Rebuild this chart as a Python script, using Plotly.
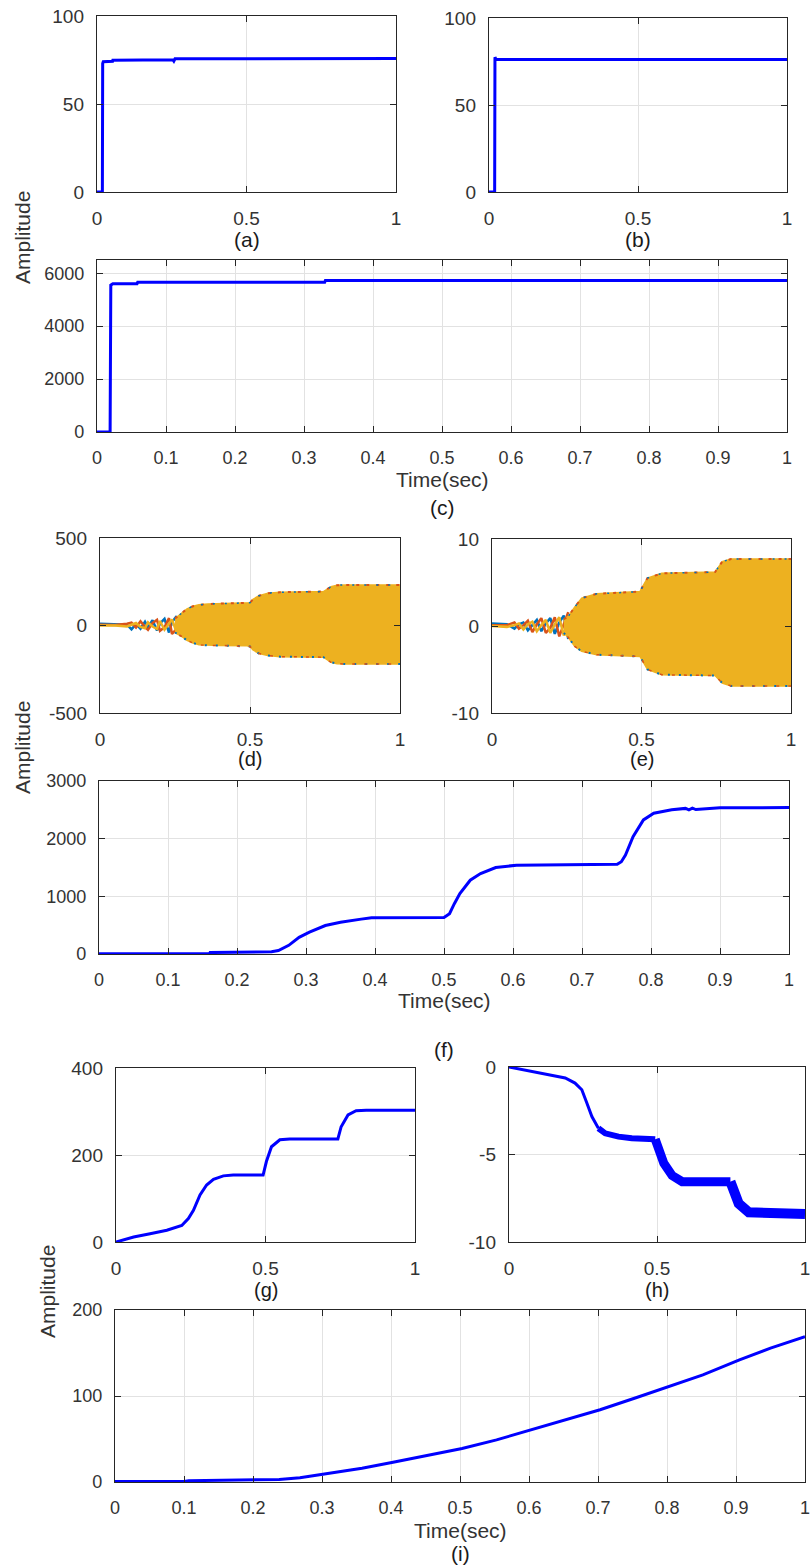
import plotly.graph_objects as go

W, H = 810, 1566

# ---------------- data ----------------
# (a)
t_a = [0, 0.018, 0.019, 0.021, 0.052, 0.053, 0.254, 0.257, 0.261, 1.0]
v_a = [0, 0, 73.0, 74.0, 74.3, 74.9, 75.1, 74.4, 75.7, 75.9]
# (b)
t_b = [0, 0.019, 0.020, 0.023, 0.03, 1.0]
v_b = [0, 0, 77.5, 76.2, 76.2, 76.2]
# (c)
t_c = [0, 0.019, 0.020, 0.023, 0.058, 0.059, 0.33, 0.331, 1.0]
v_c = [0, 0, 5550, 5600, 5600, 5660, 5660, 5725, 5730]

# (d) three-phase currents: early tangle + envelope of the steady oscillation
t_d_tangle = [0, 0.05, 0.09, 0.105, 0.12, 0.135, 0.15, 0.16, 0.175, 0.19, 0.2, 0.215,
              0.23, 0.24, 0.255, 0.27]
d_blue = [10, 8, 5, -22, 8, -18, 22, -10, 30, -28, 12, 38, -40, 20, 52, -62]
d_red = [5, 3, 10, 16, -12, 24, -8, -25, 14, 32, -30, -10, 42, -48, -20, 62]
d_yellow = [0, 0, -5, 5, 14, -8, -16, 18, -6, -20, 26, -24, 10, 34, -36, 42]
t_d_env = [0.25, 0.27, 0.29, 0.31, 0.33, 0.36, 0.40, 0.49, 0.50, 0.51, 0.53, 0.56, 0.60,
           0.745, 0.755, 0.77, 0.79, 0.82, 1.0]
d_upper = [40, 67, 95, 110, 118, 123, 125, 128, 130, 150, 170, 185, 190,
           194, 205, 222, 230, 232, 232]
d_lower = [-40, -60, -85, -100, -110, -114, -114, -116, -120, -140, -160, -172, -178,
           -181, -192, -210, -218, -220, -220]

# (e)
t_e_tangle = [0, 0.05, 0.075, 0.09, 0.105, 0.12, 0.135, 0.15, 0.165, 0.18, 0.195, 0.21,
              0.225, 0.24, 0.255]
e_blue = [0.3, 0.2, -0.3, 0.2, 0.4, -0.5, 0.1, 0.7, -0.6, 0.3, 0.9, -0.9, 0.4, 1.2, -1.5]
e_red = [0.1, 0.1, 0.4, -0.3, 0.1, 0.6, -0.7, 0.2, 0.9, -0.8, -0.2, 1.0, -1.2, 0.3, 1.6]
e_yellow = [0, -0.1, 0.1, 0.3, -0.4, 0.2, 0.5, -0.6, 0.1, 0.7, -0.8, 0.2, 1.0, -1.1, 0.9]
t_e_env = [0.24, 0.255, 0.277, 0.30, 0.35, 0.495, 0.50, 0.52, 0.568, 0.746, 0.77, 0.80, 1.0]
e_upper = [0.8, 1.1, 2.2, 3.2, 3.7, 3.96, 4.3, 5.5, 6.06, 6.2, 7.4, 7.7, 7.7]
e_lower = [-0.8, -1.3, -2.35, -2.9, -3.3, -3.5, -3.8, -5.0, -5.6, -5.7, -6.55, -6.9, -6.9]

# (f)
t_f = [0, 0.16, 0.161, 0.24, 0.25, 0.26, 0.275, 0.29, 0.305, 0.328, 0.35, 0.38, 0.395, 0.5,
       0.508, 0.515, 0.523, 0.538, 0.553, 0.575, 0.605, 0.751, 0.757, 0.763, 0.774, 0.789,
       0.804, 0.83, 0.85, 0.855, 0.86, 0.865, 0.9, 1.0]
v_f = [5, 5, 25, 30, 40, 60, 150, 290, 378, 494, 552, 605, 630, 634,
       700, 872, 1047, 1279, 1395, 1500, 1540, 1555, 1600, 1715, 2035, 2325,
       2442, 2500, 2525, 2500, 2528, 2505, 2535, 2540]

# (g)
t_g = [0, 0.059, 0.114, 0.17, 0.22, 0.242, 0.259, 0.281, 0.303, 0.326, 0.359, 0.392, 0.492,
       0.503, 0.52, 0.548, 0.581, 0.742, 0.753, 0.776, 0.803, 0.837, 1.0]
v_g = [0, 11.5, 19, 27, 38, 54, 73, 108, 131, 144, 152, 154, 154,
       185, 219, 235, 237, 237, 265, 292, 302, 303, 303]

# (h)
t_h = [0, 0.1, 0.19, 0.223, 0.246, 0.263, 0.28, 0.302, 0.325, 0.37, 0.415, 0.494, 0.506,
       0.523, 0.551, 0.585, 0.748, 0.76, 0.776, 0.81, 1.0]
v_h = [0, -0.34, -0.63, -0.92, -1.3, -2.06, -2.83, -3.5, -3.79, -3.98, -4.07, -4.13, -4.74,
       -5.5, -6.2, -6.55, -6.55, -7.2, -7.8, -8.3, -8.4]

# (i)
t_i = [0, 0.1, 0.107, 0.186, 0.238, 0.268, 0.302, 0.358, 0.403, 0.455, 0.503, 0.553, 0.601,
       0.65, 0.703, 0.755, 0.802, 0.852, 0.905, 0.95, 1.0]
v_i = [0.5, 0.5, 1.5, 2, 3, 5, 9, 16, 23, 31, 39, 49, 60,
       72, 84, 98, 111, 124.5, 142, 155.6, 169]

# tick labels
xt_half = [0, 0.5, 1]
xt_half_txt = ["0", "0.5", "1"]
xt_tenth = [0, 0.1, 0.2, 0.3, 0.4, 0.5, 0.6, 0.7, 0.8, 0.9, 1]
xt_tenth_txt = ["0", "0.1", "0.2", "0.3", "0.4", "0.5", "0.6", "0.7", "0.8", "0.9", "1"]
yt_a = [0, 50, 100]
yt_c = [0, 2000, 4000, 6000]
yt_d = [-500, 0, 500]
yt_e = [-10, 0, 10]
yt_f = [0, 1000, 2000, 3000]
yt_g = [0, 200, 400]
yt_h = [-10, -5, 0]
yt_i = [0, 100, 200]

# ---------------- layout helpers ----------------
FONT = "Arial, Liberation Sans, Helvetica, sans-serif"
TXT = "#333333"
BLUE = "#0000ff"
M_BLUE, M_RED, M_YEL = "#0072BD", "#D95319", "#EDB120"

# panel boxes in pixels: (left, right, top, bottom)
boxes = {
    "a": (97, 396, 16, 192),
    "b": (489, 787, 18, 192),
    "c": (97, 787, 260, 432),
    "d": (100, 400, 538, 713),
    "e": (492, 791, 539, 713),
    "f": (99, 789, 781, 954),
    "g": (116, 415, 1068, 1242),
    "h": (509, 805, 1067, 1242),
    "i": (115, 805, 1310, 1482),
}
order = ["a", "b", "c", "d", "e", "f", "g", "h", "i"]

fig = go.Figure()
layout = dict(width=W, height=H, margin=dict(l=0, r=0, t=0, b=0, pad=0, autoexpand=False),
              paper_bgcolor="white", plot_bgcolor="white", showlegend=False)


def ax_common(size):
    return dict(showline=True, linecolor="#262626", linewidth=1.4, mirror="ticks",
                ticks="inside", ticklen=6, tickcolor="#262626", tickwidth=1.4,
                showgrid=True, gridcolor="#e2e2e2", gridwidth=1, zeroline=False,
                automargin=False, ticklabeloverflow="allow",
                tickfont=dict(family=FONT, size=size, color=TXT))


yinfo = {"a": (yt_a, [0, 100]), "b": (yt_a, [0, 100]), "c": (yt_c, [0, 6500]),
         "d": (yt_d, [-500, 500]), "e": (yt_e, [-10, 10]), "f": (yt_f, [0, 3000]),
         "g": (yt_g, [0, 400]), "h": (yt_h, [-10, 0]), "i": (yt_i, [0, 200])}
wide = {"c", "f", "i"}

for k, p in enumerate(order):
    n = "" if k == 0 else str(k + 1)
    l, r, t, b = boxes[p]
    size = 18 if p in wide else 19
    xa = ax_common(size)
    xa.update(domain=[l / W, r / W], range=[0, 1], anchor="y" + n,
              tickvals=xt_tenth if p in wide else xt_half,
              ticktext=xt_tenth_txt if p in wide else xt_half_txt,
              ticklabelstandoff=9)
    yt, yr = yinfo[p]
    ya = ax_common(size)
    ya.update(domain=[1 - b / H, 1 - t / H], range=yr, anchor="x" + n,
              tickvals=yt, ticktext=[str(v) for v in yt], ticklabelstandoff=8)
    layout["xaxis" + n] = xa
    layout["yaxis" + n] = ya

AX = {p: ("x" + ("" if k == 0 else str(k + 1)), "y" + ("" if k == 0 else str(k + 1)))
      for k, p in enumerate(order)}


def line(p, x, y, color=BLUE, width=3, dash=None):
    xa, ya = AX[p]
    fig.add_trace(go.Scatter(x=x, y=y, mode="lines", xaxis=xa, yaxis=ya,
                             line=dict(color=color, width=width, dash=dash),
                             hoverinfo="skip"))


line("a", t_a, v_a)
line("b", t_b, v_b)
line("c", t_c, v_c)
line("f", t_f, v_f)
line("g", t_g, v_g)
line("i", t_i, v_i)

# (h): band gets thicker as ripple grows
h_segments = [(0.0, 0.302, 3), (0.302, 0.494, 6), (0.494, 0.748, 9), (0.748, 1.0, 10)]
for lo, hi, w in h_segments:
    xs = [t for t in t_h if lo <= t <= hi]
    ys = [v for t, v in zip(t_h, v_h) if lo <= t <= hi]
    line("h", xs, ys, width=w)


def osc(p, tt, blue, red, yel, te, up, lo):
    line(p, tt, blue, M_BLUE, 2.5)
    line(p, tt, red, M_RED, 2.5)
    line(p, tt, yel, M_YEL, 2.5)
    xa, ya = AX[p]
    fig.add_trace(go.Scatter(x=te + te[::-1], y=up + lo[::-1], mode="lines", fill="toself",
                             fillcolor=M_YEL, line=dict(color=M_YEL, width=1.5),
                             xaxis=xa, yaxis=ya, hoverinfo="skip"))
    line(p, te, up, M_RED, 2, "3px,7px")
    line(p, te, lo, M_BLUE, 2, "2px,9px")
    line(p, te, lo, M_RED, 1.5, "0px,5px,3px,4px")
    line(p, te, up, M_BLUE, 1.5, "0px,6px,2px,4px")


osc("d", t_d_tangle, d_blue, d_red, d_yellow, t_d_env, d_upper, d_lower)
osc("e", t_e_tangle, e_blue, e_red, e_yellow, t_e_env, e_upper, e_lower)

# ---------------- text annotations ----------------
ann = []


def text(s, x, y, size=21, color="#1a1a1a", angle=0):
    ann.append(dict(text=s, x=x / W, y=1 - y / H, xref="paper", yref="paper",
                    showarrow=False, xanchor="center", yanchor="middle", textangle=angle,
                    font=dict(family=FONT, size=size, color=color)))


def cx(p):
    return (boxes[p][0] + boxes[p][1]) / 2


text("(a)", cx("a"), 240)
text("(b)", cx("b"), 240)
text("Time(sec)", cx("c"), 479, color=TXT)
text("(c)", cx("c"), 507)
text("(d)", cx("d"), 759, size=20)
text("(e)", cx("e"), 759, size=20)
text("Time(sec)", cx("f"), 1000, color=TXT)
text("(f)", cx("f"), 1049)
text("(g)", cx("g"), 1290, size=20)
text("(h)", cx("h"), 1290, size=20)
text("Time(sec)", cx("i"), 1530, color=TXT)
text("(i)", cx("i"), 1553)
text("Amplitude", 22, 238, color=TXT, angle=-90)
text("Amplitude", 22, 748, color=TXT, angle=-90)
text("Amplitude", 47, 1292, color=TXT, angle=-90)

layout["annotations"] = ann
fig.update_layout(**layout)
fig.write_html("out.html",
               config={"displayModeBar": False},
               post_script="document.body.style.margin='0px';"
                           "document.body.style.overflow='hidden';")
